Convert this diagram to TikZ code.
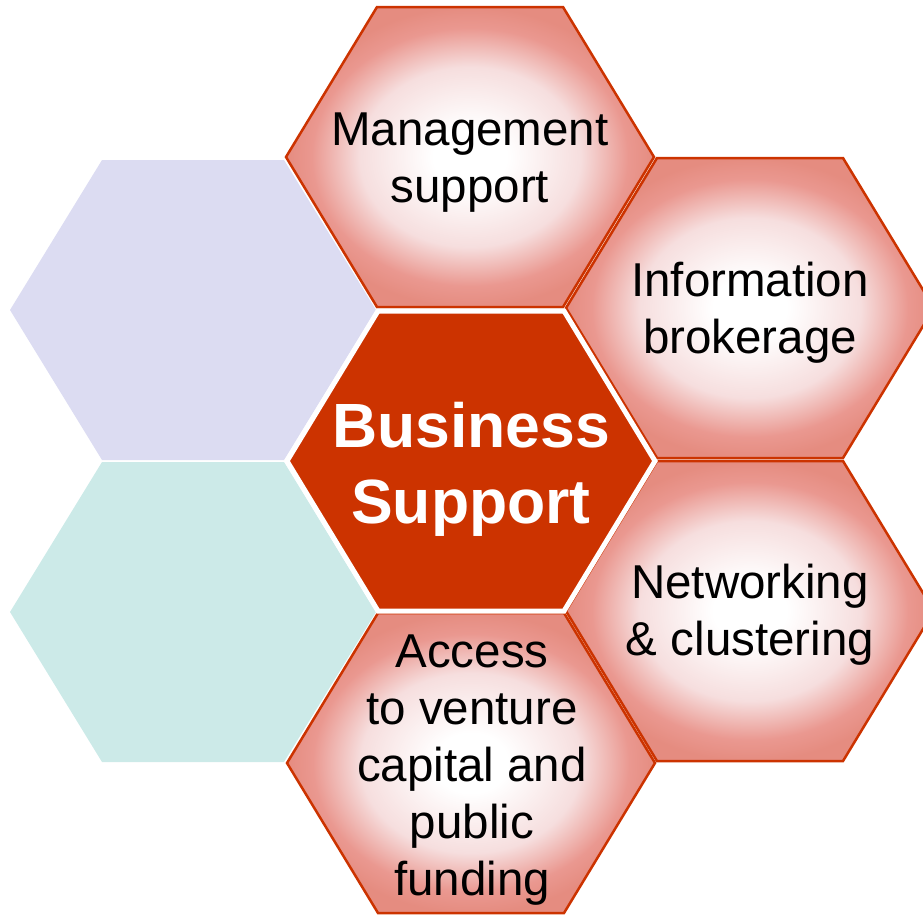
\documentclass[tikz,border=0pt]{standalone}
\usepackage{fontspec}
\setmainfont{Liberation Sans}
\definecolor{hexred}{RGB}{204,51,0}
\definecolor{hexout}{RGB}{229,140,128}
\definecolor{hexedge}{RGB}{234,152,144}
\definecolor{hexmid}{RGB}{246,222,222}
\definecolor{lav}{RGB}{220,220,242}
\definecolor{teal}{RGB}{204,234,232}
\pgfdeclareradialshading{hexglow}{\pgfpoint{0bp}{0bp}}{color(0bp)=(white); color(5bp)=(white); color(15bp)=(hexmid); color(21.5bp)=(hexedge); color(25bp)=(hexout); color(50bp)=(hexout)}
\begin{document}
\begin{tikzpicture}[x=1pt,y=-1pt,
  hexlabel/.style={align=center, text=black, inner sep=0pt, font=\fontsize{47.5}{57}\selectfont},
  corelabel/.style={align=center, text=white, inner sep=0pt, font=\bfseries\fontsize{62.5}{76}\selectfont},
  outerhex/.style={draw=hexred, line width=2.5pt, shade, shading=hexglow},
  plainhex/.style={draw=none},
  corehex/.style={fill=hexred, draw=white, line width=5pt, line join=miter}]
\useasboundingbox (0,0) rectangle (923,914);
\coordinate (lv) at (193,310);
\coordinate (tl) at (193,612);
\coordinate (mg) at (470,157);
\coordinate (ib) at (750,308);
\coordinate (nw) at (750,611);
\coordinate (ac) at (471,763);
\coordinate (bs) at (471,461);
% pale hexagons
\path[plainhex, fill=lav] (lv) +(-183,0) -- +(-91,-150) -- +(91,-150) -- +(183,0) -- +(91,150) -- +(-91,150) -- cycle;
\path[plainhex, fill=teal] (tl) +(-183,0) -- +(-91,-150) -- +(91,-150) -- +(183,0) -- +(91,150) -- +(-91,150) -- cycle;
% outer glowing hexagons
\path[outerhex] (mg) +(-184,0) -- +(-93,-150) -- +(93,-150) -- +(184,0) -- +(93,150) -- +(-93,150) -- cycle;
\path[outerhex] (ib) +(-184,0) -- +(-93,-150) -- +(93,-150) -- +(184,0) -- +(93,150) -- +(-93,150) -- cycle;
\path[outerhex] (nw) +(-184,0) -- +(-93,-150) -- +(93,-150) -- +(184,0) -- +(93,150) -- +(-93,150) -- cycle;
\path[outerhex] (ac) +(-184,0) -- +(-93,-150) -- +(93,-150) -- +(184,0) -- +(93,150) -- +(-93,150) -- cycle;
% core hexagon
\path[corehex] (bs) +(-184,0) -- +(-93,-150) -- +(93,-150) -- +(184,0) -- +(93,150) -- +(-93,150) -- cycle;
% labels
\node[hexlabel] (mgt) at (470,163) {Management\\support};
\node[hexlabel] (ibt) at (750,313) {Information\\brokerage};
\node[hexlabel] (nwt) at (750,615) {Networking\\\& clustering};
\node[hexlabel] (act) at (472,770) {Access\\to venture\\capital and\\public\\funding};
\node[corelabel] (bst) at (471,469) {Business\\Support};
\end{tikzpicture}
\end{document}
